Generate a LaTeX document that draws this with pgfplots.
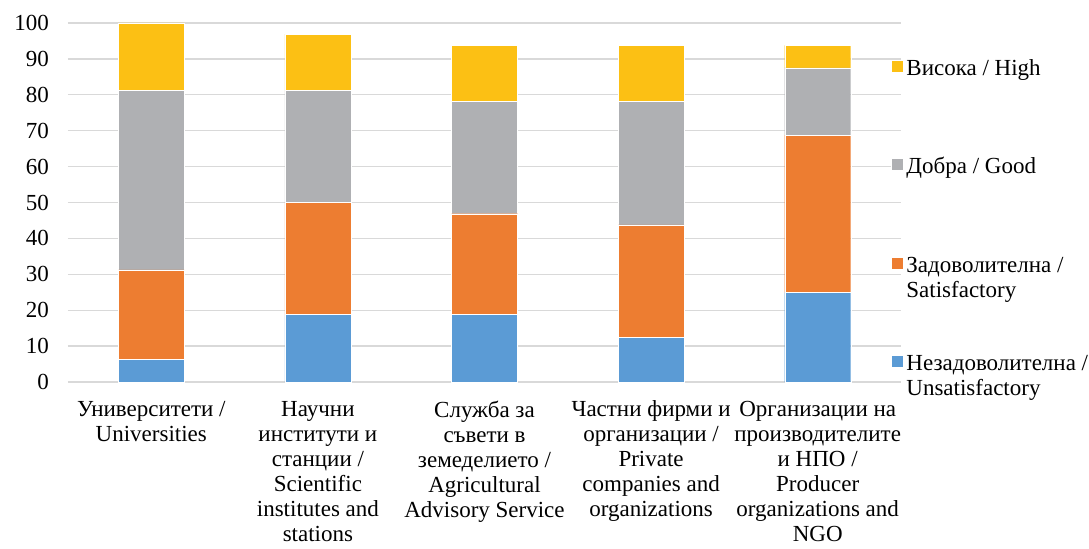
\documentclass[border=0pt]{standalone}
\usepackage{fontspec}
\setmainfont{Liberation Serif}
\usepackage{pgfplots}
\pgfplotsset{compat=1.18}
\definecolor{cblue}{HTML}{5B9BD5}
\definecolor{corange}{HTML}{ED7D31}
\definecolor{cgray}{HTML}{AFB0B3}
\definecolor{cyellow}{HTML}{FCC014}
\definecolor{gridgray}{HTML}{D9D9D9}
\pgfplotsset{sqlegend/.style={legend image code/.code={\fill[##1] (0bp,3bp) rectangle (12bp,15bp);}}}
\begin{document}
\begin{tikzpicture}
\useasboundingbox (-68bp,-167bp) rectangle (1021bp,382bp);
\begin{axis}[
  at={(0,0)}, anchor=south west,
  scale only axis, width=833bp, height=359bp,
  ybar stacked, bar width=66bp,
  xmin=-0.5, xmax=4.5, ymin=0, ymax=100,
  xtick={0,1,2,3,4},
  xticklabels={{Университети /\\Universities},
    {Научни\\институти и\\станции /\\Scientific\\institutes and\\stations},
    {Служба за\\съвети в\\земеделието /\\Agricultural\\Advisory Service},
    {Частни фирми и\\организации /\\Private\\companies and\\organizations},
    {Организации на\\производителите\\и НПО /\\Producer\\organizations and\\NGO}},
  ytick={0,10,...,100},
  ymajorgrids, grid style={color=gridgray, line width=1.3bp},
  axis line style={draw=none},
  major tick length=0pt,
  tick label style={font=\fontsize{23bp}{25bp}\selectfont},
  xticklabel style={align=center, yshift=-15.5bp},
  yticklabel style={xshift=-15.5bp},
  /pgf/number format/assume math mode=true,
  reverse legend,
  legend style={at={(0.988,0.9025)}, anchor=north west, draw=none, fill=none,
    inner sep=0pt, outer sep=0pt, column sep=3bp, row sep=41.5bp,
    font=\fontsize{23bp}{25bp}\selectfont,
    cells={anchor=base west},
    nodes={text height=17bp, text depth=40bp, inner sep=0pt}},
]
\addplot[fill=cblue, draw=white, line width=0.4bp, sqlegend] coordinates {(0,6.25) (1,18.75) (2,18.75) (3,12.5) (4,25)};
\addplot[fill=corange, draw=white, line width=0.4bp, sqlegend] coordinates {(0,25) (1,31.25) (2,28.125) (3,31.25) (4,43.75)};
\addplot[fill=cgray, draw=white, line width=0.4bp, sqlegend] coordinates {(0,50) (1,31.25) (2,31.25) (3,34.375) (4,18.75)};
\addplot[fill=cyellow, draw=white, line width=0.4bp, sqlegend] coordinates {(0,18.75) (1,15.625) (2,15.625) (3,15.625) (4,6.25)};
\addlegendentry{\begin{tabular}[t]{@{}l@{}}Незадоволителна /\\Unsatisfactory\end{tabular}}
\addlegendentry{\begin{tabular}[t]{@{}l@{}}Задоволителна /\\Satisfactory\end{tabular}}
\addlegendentry{Добра / Good}
\addlegendentry{Висока / High}
\end{axis}
\end{tikzpicture}
\end{document}
